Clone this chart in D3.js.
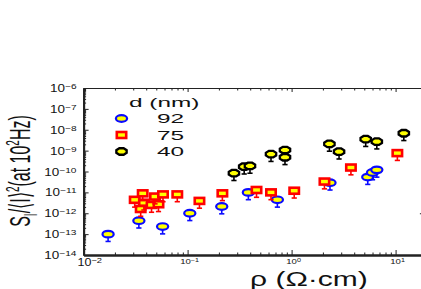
<!DOCTYPE html>
<html>
<head>
<meta charset="utf-8">
<script src="https://cdn.jsdelivr.net/npm/d3@7"></script>
<style>
  html, body { margin: 0; padding: 0; background: #fff; }
  svg { display: block; font-family: "Liberation Sans", Arial, sans-serif; }
</style>
</head>
<body>
<div id="chart"></div>
<script>
// resistivity (Ohm cm) and normalised noise S_I/<I>^2 at 100 Hz, one pair per film thickness
const rho92 = [0.0172, 0.034, 0.0575, 0.105, 0.213, 0.384, 0.73, 2.34, 5.4, 6.0, 6.6];
const noise92 = [1.0e-13, 4.4e-13, 2.3e-13, 1.0e-12, 2.1e-12, 1.0e-11, 4.4e-12, 2.9e-11, 5.4e-11, 9e-11, 1.2e-10];

const rho75 = [0.0354, 0.031, 0.038, 0.037, 0.045, 0.0525, 0.0486, 0.058, 0.0796, 0.13, 0.216, 0.46, 0.634, 1.06, 2.07, 3.72, 10.4];
const noise75 = [1.6e-12, 4.4e-12, 3.2e-12, 9e-12, 2.5e-12, 2.7e-12, 6.3e-12, 8e-12, 8e-12, 3.9e-12, 9e-12, 1.3e-11, 1.0e-11, 1.2e-11, 3.3e-11, 1.55e-10, 7.6e-10];

const rho40 = [0.279, 0.35, 0.398, 0.634, 0.864, 0.864, 2.31, 2.86, 5.16, 6.6, 12.0];
const noise40 = [8.3e-11, 1.7e-10, 1.85e-10, 6.8e-10, 1.07e-9, 4.8e-10, 2.1e-9, 8.9e-10, 3.55e-9, 2.7e-9, 6.8e-9];

const errDecades = 0.35;          // lower error bar, in decades
const legendLabels = ["92", "75", "40"];
const xTickExps = [-2, -1, 0, 1];
const yTickExps = [-6, -7, -8, -9, -10, -11, -12, -13, -14];

const W = 421, H = 289;
const svg = d3.select("#chart").append("svg").attr("width", W).attr("height", H);

const x = d3.scaleLog().domain([1e-2, 20]).range([83.6, 426.9]);
const y = d3.scaleLog().domain([1e-14, 1e-6]).range([255, 88]);

const majorX = xTickExps.map(e => Math.pow(10, e));
const majorY = yTickExps.map(e => Math.pow(10, e));
const minorX = [], minorY = [];
for (let e = -2; e <= 1; e++) for (let k = 2; k <= 9; k++) if (k * Math.pow(10, e) <= 20) minorX.push(k * Math.pow(10, e));
for (let e = -14; e <= -7; e++) for (let k = 2; k <= 9; k++) minorY.push(k * Math.pow(10, e));

function axisG(axis, tx, ty, width) {
  const g = svg.append("g").attr("transform", `translate(${tx},${ty})`).call(axis);
  g.selectAll("text").remove();
  g.select(".domain").attr("stroke", "#222").attr("stroke-width", width);
  g.selectAll(".tick line").attr("stroke", "#222").attr("stroke-width", 1);
  return g;
}

// frame with inward ticks
axisG(d3.axisBottom(x).tickValues(minorX).tickSize(-2.5).tickSizeOuter(0), 0, y.range()[0], 2);
axisG(d3.axisBottom(x).tickValues(majorX).tickSize(-5).tickSizeOuter(0), 0, y.range()[0], 2);
axisG(d3.axisTop(x).tickValues(minorX).tickSize(-2.5).tickSizeOuter(0), 0, y.range()[1], 1);
axisG(d3.axisTop(x).tickValues(majorX).tickSize(-4).tickSizeOuter(0), 0, y.range()[1], 1);
axisG(d3.axisLeft(y).tickValues(minorY).tickSize(-2.5).tickSizeOuter(0), x.range()[0], 0, 2);
axisG(d3.axisLeft(y).tickValues(majorY).tickSize(-5).tickSizeOuter(0), x.range()[0], 0, 2);
axisG(d3.axisRight(y).tickValues([1e-12]).tickSize(-7).tickSizeOuter(0), x.range()[1], 0, 1);

// stretched text helper
function stext(tx, ty, sx, anchor, size) {
  return svg.append("text")
    .attr("transform", `translate(${tx},${ty}) scale(${sx},1)`)
    .attr("text-anchor", anchor)
    .style("font-size", size + "px")
    .attr("fill", "#111");
}

// y tick labels
yTickExps.forEach(e => {
  const t = stext(76.5, y(Math.pow(10, e)) + 4, 1.35, "end", 10);
  t.append("tspan").text("10");
  t.append("tspan").attr("dy", -3).style("font-size", "7.5px").text("\u2212" + (-e));
});

// x tick labels (the first one is drawn larger, as in the source figure)
xTickExps.forEach((e, i) => {
  const big = i === 0;
  const t = big
    ? stext(77.5, 266, 1.25, "start", 10)
    : stext(x(Math.pow(10, e)) + 2, 264, 1.2, "middle", 8);
  t.append("tspan").text("10");
  t.append("tspan").attr("dy", big ? -3 : -2.5).style("font-size", big ? "7.5px" : "6px")
    .text(e < 0 ? "\u2212" + (-e) : String(e));
});

// axis titles
const xl = stext(250, 285.5, 1.5, "start", 20);
xl.text("\u03C1 (\u03A9\u00B7cm)");

const yl = svg.append("text")
  .attr("transform", "translate(30,171) scale(1.8,1) rotate(-90)")
  .attr("text-anchor", "middle")
  .style("font-size", "16px")
  .attr("fill", "#111");
yl.append("tspan").text("S");
yl.append("tspan").attr("dy", 4).style("font-size", "10px").text("I");
yl.append("tspan").attr("dy", -4).text("/\u27E8I\u27E9");
yl.append("tspan").attr("dy", -6).style("font-size", "10px").text("2");
yl.append("tspan").attr("dy", 6).text("(at 10");
yl.append("tspan").attr("dy", -6).style("font-size", "10px").text("2");
yl.append("tspan").attr("dy", 6).text("Hz)");

// markers
const yellow = "#ffff00";
const octagon = d3.range(8).map(i => {
  const a = Math.PI / 8 + i * Math.PI / 4;
  return [5.6 * Math.cos(a), 3.5 * Math.sin(a)];
});
const octPath = d3.line()(octagon) + "Z";

const series = [
  { label: "92", xs: rho92, ys: noise92, color: "#0a0aff", shape: "ellipse" },
  { label: "75", xs: rho75, ys: noise75, color: "#ff0000", shape: "square" },
  { label: "40", xs: rho40, ys: noise40, color: "#000000", shape: "octagon" }
];

function drawMarker(g, s) {
  if (s.shape === "ellipse") {
    g.append("ellipse").attr("rx", 5.6).attr("ry", 3.3)
      .attr("fill", yellow).attr("stroke", s.color).attr("stroke-width", 2.2);
  } else if (s.shape === "square") {
    g.append("rect").attr("x", -4.7).attr("y", -3).attr("width", 9.4).attr("height", 6)
      .attr("fill", yellow).attr("stroke", s.color).attr("stroke-width", 2.6);
  } else {
    g.append("path").attr("d", octPath)
      .attr("fill", yellow).attr("stroke", s.color).attr("stroke-width", 2.3);
  }
}

series.forEach(s => {
  const pts = s.xs.map((v, i) => [v, s.ys[i]]);
  const g = svg.append("g");
  const p = g.selectAll("g").data(pts).join("g")
    .attr("transform", d => `translate(${x(d[0])},${y(d[1])})`);
  const low = d => y(d[1] / Math.pow(10, errDecades)) - y(d[1]);
  // error bar (lower part)
  p.append("line")
    .attr("x1", 0).attr("x2", 0).attr("y1", 0).attr("y2", low)
    .attr("stroke", s.color).attr("stroke-width", 1.6);
  p.append("line")
    .attr("x1", -2.6).attr("x2", 2.6).attr("y1", low).attr("y2", low)
    .attr("stroke", s.color).attr("stroke-width", 1.6);
  p.each(function () { drawMarker(d3.select(this), s); });
});

// legend
const legendRow = d3.scalePoint().domain(legendLabels).range([118.5, 151.5]);
stext(129, 107, 1.95, "start", 12.5).text("d (nm)");
series.forEach(s => {
  const g = svg.append("g").attr("transform", `translate(121.5,${legendRow(s.label)})`);
  drawMarker(g, s);
  stext(157, legendRow(s.label) + 4.5, 1.95, "start", 12.5).text(s.label);
});
</script>
</body>
</html>
